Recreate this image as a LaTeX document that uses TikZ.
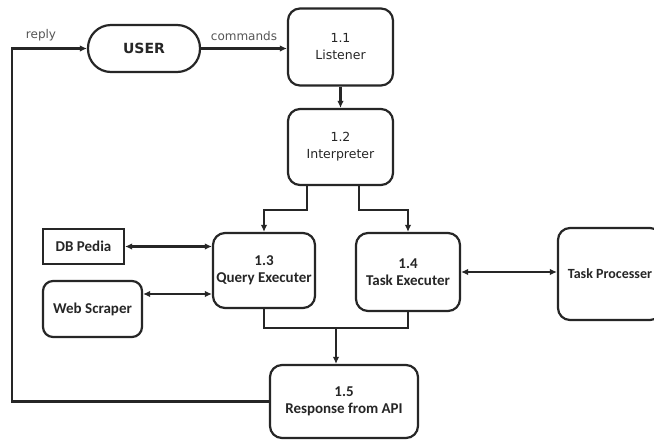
\documentclass[tikz,border=0pt]{standalone}
\usepackage{fontspec}
\setmainfont{DejaVu Sans}
\newfontfamily\carlitofam{Carlito}
\usetikzlibrary{arrows.meta,calc}
\definecolor{ln}{HTML}{262626}
\definecolor{lbl}{HTML}{555555}
\begin{document}
\begin{tikzpicture}[x=1pt,y=-1pt,
  box/.style={draw=ln,line width=2.2pt,rounded corners=12pt,align=center,inner sep=0pt,text=ln},
  dfont/.style={font=\fontsize{12.5}{17}\selectfont},
  cfont/.style={font=\carlitofam\bfseries\fontsize{15}{17}\selectfont},
  arr/.style={draw=ln,line width=2.2pt,-{Latex[length=7pt,width=6.5pt]}},
  biarr/.style={draw=ln,line width=2.2pt,{Latex[length=7pt,width=6.5pt]}-{Latex[length=7pt,width=6.5pt]}},
  lab/.style={text=lbl,font=\fontsize{12}{14}\selectfont}]
\useasboundingbox (0,0) rectangle (654,440);
\clip (0,0) rectangle (654,440);
\fill[white] (0,0) rectangle (654,440);

\node[box,rounded corners=23pt,minimum width=112pt,minimum height=47pt,font=\bfseries\fontsize{14}{17}\selectfont] (user) at (144,48.5) {USER};
\node[box,dfont,minimum width=105pt,minimum height=77pt] (l11) at (340.5,47) {1.1\\Listener};
\node[box,dfont,minimum width=105pt,minimum height=76pt] (l12) at (340.5,147) {1.2\\Interpreter};
\node[box,cfont,minimum width=102pt,minimum height=75pt] (l13) at (264,270.5) {1.3\\Query Executer};
\node[box,cfont,minimum width=104pt,minimum height=78pt] (l14) at (408,272) {1.4\\Task Executer};
\node[box,cfont,minimum width=148pt,minimum height=73pt] (l15) at (344,401.5) {1.5\\Response from API};
\node[box,cfont,rounded corners=0pt,minimum width=81pt,minimum height=35pt] (db) at (83.5,246.5) {DB Pedia};
\node[box,cfont,rounded corners=10pt,minimum width=99pt,minimum height=56pt] (ws) at (92.5,309) {Web Scraper};
\node[box,cfont,font=\carlitofam\bfseries\fontsize{14}{17}\selectfont,minimum width=104pt,minimum height=92pt] (tp) at (610,274) {Task Processer};

\draw[arr] (user.east) -- node[lab,above=3pt] (cmd) {commands} (l11.west |- user.east);
\draw[arr] (l11.south) -- (l12.north);
\draw[arr] ([xshift=-33.5pt]l12.south) -- ++(0,24) -| (l13.north);
\draw[arr] ([xshift=18.5pt]l12.south) -- ++(0,24) -| (l14.north);
\draw[biarr] (db.east) -- (db.east -| l13.west);
\draw[biarr] (ws.east |- 0,294) -- (l13.west |- 0,294);
\draw[biarr] (l14.east) -- (l14.east -| tp.west);
\draw[draw=ln,line width=2.2pt] (l13.south) -- ++(0,19) -| (l14.south);
\coordinate (m) at (336,327);
\draw[arr] (m) -- (m |- l15.north);
\coordinate (c1) at (12,48.5);
\draw[arr] (l15.west) -| (c1) -- (user.west);
\node[lab] (rep) at (41,35) {reply};
\end{tikzpicture}
\end{document}
